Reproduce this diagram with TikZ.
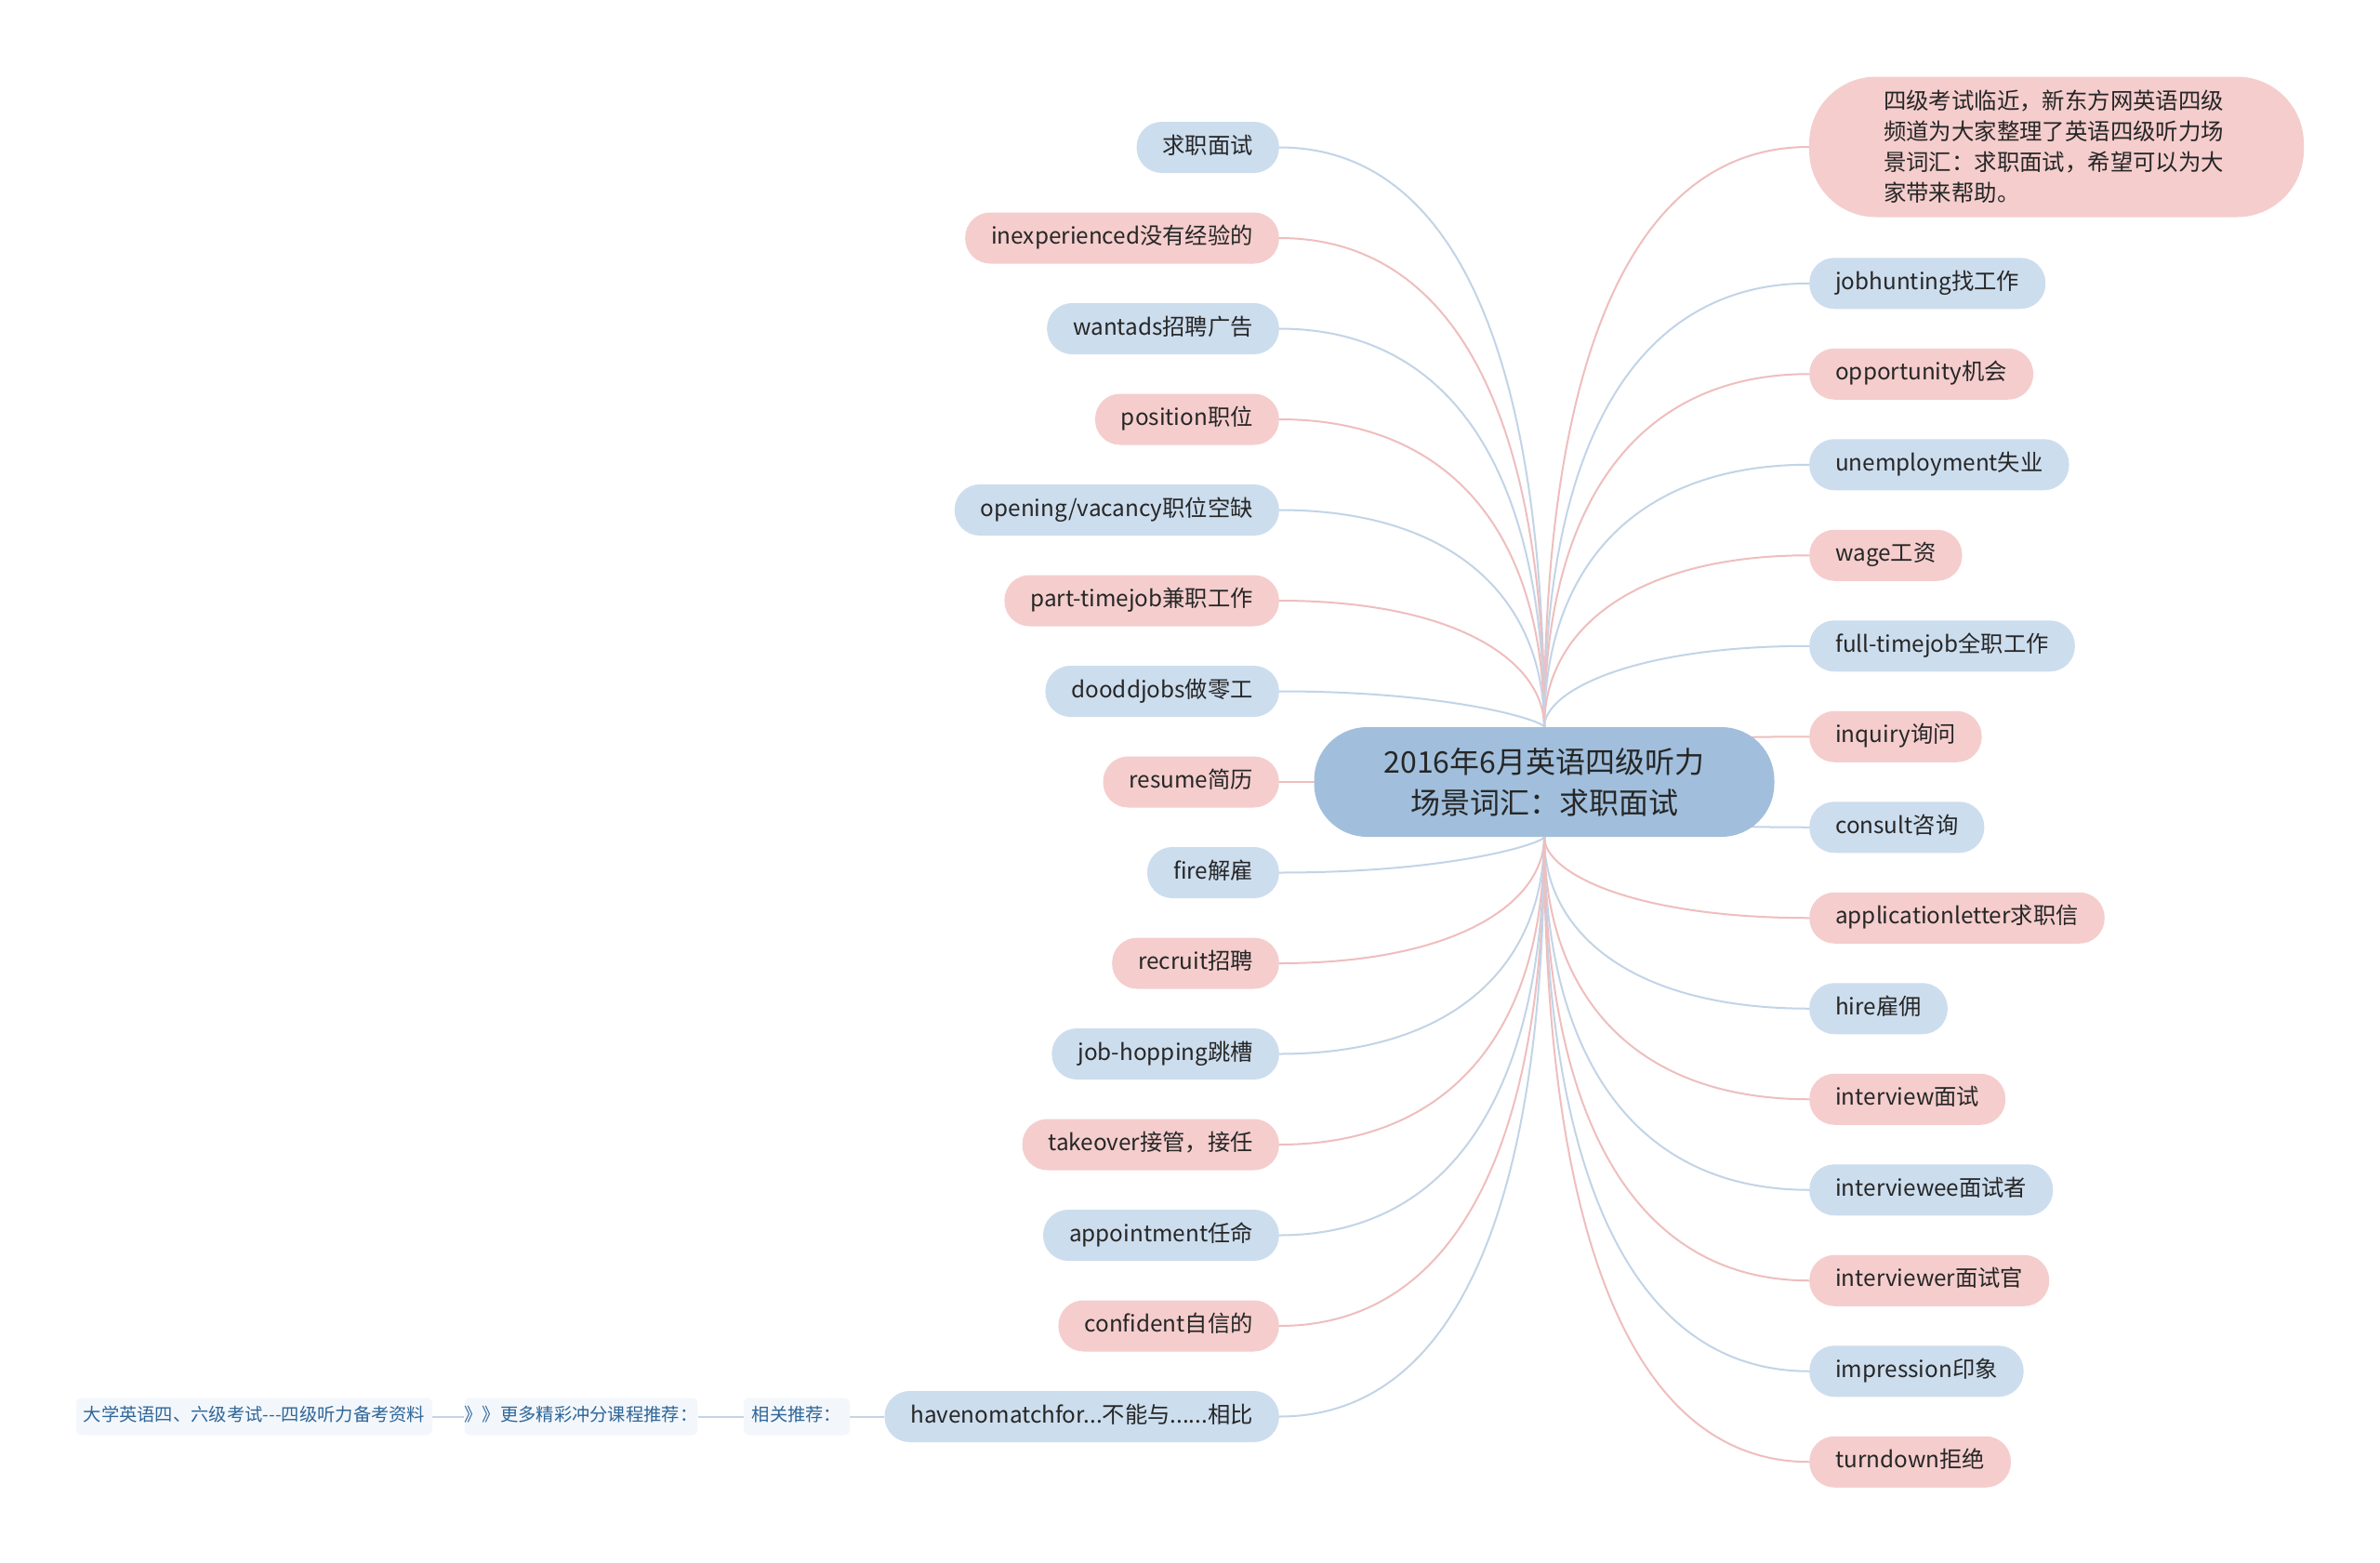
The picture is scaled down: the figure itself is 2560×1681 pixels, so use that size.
\documentclass[tikz,border=0pt]{standalone}
\usepackage{fontspec}
\setmainfont{Noto Sans CJK SC}
\usetikzlibrary{calc}
\definecolor{bfill}{HTML}{CCDDEE}
\definecolor{pfill}{HTML}{F5CDCD}
\definecolor{bline}{HTML}{C2D4E7}
\definecolor{pline}{HTML}{EFBEBE}
\definecolor{cfill}{HTML}{A1BFDC}
\definecolor{txt}{HTML}{262626}
\definecolor{rtxt}{HTML}{2F6699}
\definecolor{rfill}{HTML}{F3F7FB}
\pgfdeclarelayer{back}
\pgfdeclarelayer{bg}
\pgfsetlayers{back,bg,main}
\newcommand\mmlinkL[2]{\draw[#2] (#1.east) .. controls ($(#1.east)!0.667!(ctr|-#1.east)$) and ($(ctr)!0.667!(ctr|-#1.east)$) .. (ctr);}
\newcommand\mmlinkR[2]{\draw[#2] (#1.west) .. controls ($(#1.west)!0.667!(ctr|-#1.west)$) and ($(ctr)!0.667!(ctr|-#1.west)$) .. (ctr);}
\begin{document}
\begin{tikzpicture}[x=1pt,y=-1pt,
 leaf/.style={rectangle, rounded corners=27pt, minimum height=55pt, inner xsep=28pt, inner ysep=0pt, text height=18pt, text depth=5pt, font=\fontsize{24.3}{28}\selectfont, text=txt},
 bleaf/.style={leaf, fill=bfill},
 pleaf/.style={leaf, fill=pfill},
 bconn/.style={draw=bline, line width=2pt},
 pconn/.style={draw=pline, line width=2pt},
 refbox/.style={rectangle, rounded corners=6pt, fill=rfill, text=rtxt, minimum height=40pt, inner xsep=0pt, inner ysep=0pt, text height=14pt, text depth=4pt, font=\fontsize{19.3}{22}\selectfont},
]
\begin{pgfonlayer}{back}
\fill[white] (0,0) rectangle (2560,1681);
\end{pgfonlayer}
\useasboundingbox (0,0) rectangle (2560,1681);

% central node
\node[fill=cfill, rounded corners=57pt, minimum width=495pt, minimum height=118pt, inner sep=0pt, align=center, font=\fontsize{32}{44}\selectfont, text=txt] (ctr) at (1661,841) {2016年6月英语四级听力\\场景词汇：求职面试};

% note
\node[fill=pfill, rounded corners=72pt, minimum width=532pt, minimum height=151pt, inner sep=0pt, align=left, font=\fontsize{24.4}{33}\selectfont, text=txt] (note) at (2212,158) {\hspace*{-6pt}四级考试临近，新东方网英语四级\\\hspace*{-6pt}频道为大家整理了英语四级听力场\\\hspace*{-6pt}景词汇：求职面试，希望可以为大\\\hspace*{-6pt}家带来帮助。};

% left nodes
\node[bleaf, anchor=east] (L0) at (1376,158.5) {求职面试};
\node[pleaf, anchor=east] (L1) at (1376,256) {inexperienced没有经验的};
\node[bleaf, anchor=east] (L2) at (1376,353.5) {wantads招聘广告};
\node[pleaf, anchor=east] (L3) at (1376,451) {position职位};
\node[bleaf, anchor=east] (L4) at (1376,548.5) {opening/vacancy职位空缺};
\node[pleaf, anchor=east] (L5) at (1376,646) {part-timejob兼职工作};
\node[bleaf, anchor=east] (L6) at (1376,743.5) {dooddjobs做零工};
\node[pleaf, anchor=east] (L7) at (1376,841) {resume简历};
\node[bleaf, anchor=east] (L8) at (1376,938.5) {fire解雇};
\node[pleaf, anchor=east] (L9) at (1376,1036) {recruit招聘};
\node[bleaf, anchor=east] (L10) at (1376,1133.5) {job-hopping跳槽};
\node[pleaf, anchor=east] (L11) at (1376,1231) {takeover接管，接任};
\node[bleaf, anchor=east] (L12) at (1376,1328.5) {appointment任命};
\node[pleaf, anchor=east] (L13) at (1376,1426) {confident自信的};
\node[bleaf, anchor=east] (L14) at (1376,1523.5) {havenomatchfor...不能与......相比};

% right nodes
\node[bleaf, anchor=west] (R0) at (1946,304.75) {jobhunting找工作};
\node[pleaf, anchor=west] (R1) at (1946,402.25) {opportunity机会};
\node[bleaf, anchor=west] (R2) at (1946,499.75) {unemployment失业};
\node[pleaf, anchor=west] (R3) at (1946,597.25) {wage工资};
\node[bleaf, anchor=west] (R4) at (1946,694.75) {full-timejob全职工作};
\node[pleaf, anchor=west] (R5) at (1946,792.25) {inquiry询问};
\node[bleaf, anchor=west] (R6) at (1946,889.75) {consult咨询};
\node[pleaf, anchor=west] (R7) at (1946,987.25) {applicationletter求职信};
\node[bleaf, anchor=west] (R8) at (1946,1084.75) {hire雇佣};
\node[pleaf, anchor=west] (R9) at (1946,1182.25) {interview面试};
\node[bleaf, anchor=west] (R10) at (1946,1279.75) {interviewee面试者};
\node[pleaf, anchor=west] (R11) at (1946,1377.25) {interviewer面试官};
\node[bleaf, anchor=west] (R12) at (1946,1474.75) {impression印象};
\node[pleaf, anchor=west] (R13) at (1946,1572.25) {turndown拒绝};

% reference chain
\node[refbox, minimum width=114pt] (B3) at (857,1523.5) {相关推荐：};
\node[refbox, minimum width=248pt] (B2) at (625,1523.5) {》》更多精彩冲分课程推荐：};
\node[refbox, minimum width=383pt] (B1) at (273.5,1523.5) {大学英语四、六级考试-{}-{}-四级听力备考资料};

\begin{pgfonlayer}{bg}
\mmlinkL{L0}{bconn}
\mmlinkL{L1}{pconn}
\mmlinkL{L2}{bconn}
\mmlinkL{L3}{pconn}
\mmlinkL{L4}{bconn}
\mmlinkL{L5}{pconn}
\mmlinkL{L6}{bconn}
\mmlinkL{L7}{pconn}
\mmlinkL{L8}{bconn}
\mmlinkL{L9}{pconn}
\mmlinkL{L10}{bconn}
\mmlinkL{L11}{pconn}
\mmlinkL{L12}{bconn}
\mmlinkL{L13}{pconn}
\mmlinkL{L14}{bconn}
\mmlinkR{note}{pconn}
\mmlinkR{R0}{bconn}
\mmlinkR{R1}{pconn}
\mmlinkR{R2}{bconn}
\mmlinkR{R3}{pconn}
\mmlinkR{R4}{bconn}
\mmlinkR{R5}{pconn}
\mmlinkR{R6}{bconn}
\mmlinkR{R7}{pconn}
\mmlinkR{R8}{bconn}
\mmlinkR{R9}{pconn}
\mmlinkR{R10}{bconn}
\mmlinkR{R11}{pconn}
\mmlinkR{R12}{bconn}
\mmlinkR{R13}{pconn}
\draw[bconn] (L14.west) -- (B3.east);
\draw[bconn] (B3.west) -- (B2.east);
\draw[bconn] (B2.west) -- (B1.east);
\end{pgfonlayer}
\end{tikzpicture}
\end{document}
